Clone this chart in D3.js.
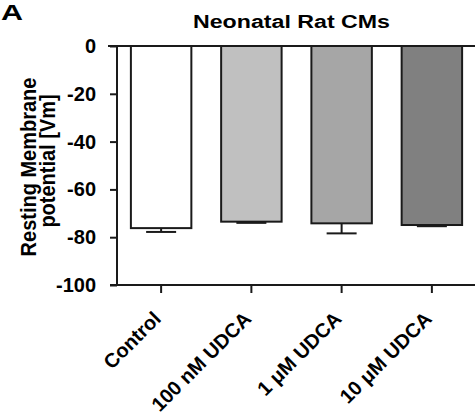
<!DOCTYPE html>
<html><head><meta charset="utf-8">
<script src="https://cdn.jsdelivr.net/npm/d3@7"></script>
<style>
body{margin:0;background:#fff;}
svg text{font-family:"Liberation Sans",Arial,sans-serif;font-weight:bold;fill:#000;}
</style></head>
<body>
<svg id="chart" width="475" height="418"></svg>
<script>
const categories = ["Control", "100 nM UDCA", "1 \u03BCM UDCA", "10 \u03BCM UDCA"];
const means = [-76.2, -73.5, -74.2, -74.9];
const sems = [1.6, 0.5, 4.2, 0.5];
const colors = ["#ffffff", "#c0c0c0", "#a6a6a6", "#808080"];
const yTicks = [0, -20, -40, -60, -80, -100];
const title = "Neonatal Rat CMs";
const yLabelLines = ["Resting Membrane", "potential [Vm]"];

const svg = d3.select("#chart");
const plotTop = 46, plotBottom = 285, plotLeft = 117, plotRight = 477;
const ink = "#1a1a1a";

const y = d3.scaleLinear().domain([0, -100]).range([plotTop, plotBottom]);
const x = d3.scaleBand().domain(categories).range([plotLeft - 1, plotRight]).paddingInner(0.33).paddingOuter(0.165);

// panel letter
svg.append("text").attr("x", 1).attr("y", 20).attr("font-size", 22)
  .attr("textLength", 22).attr("lengthAdjust", "spacingAndGlyphs").text("A");

// title
svg.append("text").attr("x", 193).attr("y", 28)
  .attr("font-size", 18).attr("textLength", 197).attr("lengthAdjust", "spacingAndGlyphs").text(title);

// y label
const yl = svg.append("text").attr("transform", "translate(0,165) scale(1.08,1) rotate(-90)")
  .attr("text-anchor", "middle").attr("font-size", 20);
yl.append("tspan").attr("x", -2).attr("y", 33.5).text(yLabelLines[0]);
yl.append("tspan").attr("x", 4).attr("y", 50.5).text(yLabelLines[1]);

// bars
const g = svg.append("g");
g.selectAll("rect.bar").data(categories).join("rect")
  .attr("x", d => x(d))
  .attr("y", y(0))
  .attr("width", x.bandwidth())
  .attr("height", (d, i) => y(means[i]) - y(0))
  .attr("fill", (d, i) => colors[i])
  .attr("stroke", ink).attr("stroke-width", 2);

// error bars (downward only)
const cap = 30;
categories.forEach((c, i) => {
  const cx = x(c) + x.bandwidth() / 2;
  g.append("line").attr("x1", cx).attr("x2", cx)
    .attr("y1", y(means[i])).attr("y2", y(means[i] - sems[i]))
    .attr("stroke", ink).attr("stroke-width", 2);
  g.append("line").attr("x1", cx - cap / 2).attr("x2", cx + cap / 2)
    .attr("y1", y(means[i] - sems[i])).attr("y2", y(means[i] - sems[i]))
    .attr("stroke", ink).attr("stroke-width", 2);
});

// zero line
svg.append("line").attr("x1", 108).attr("x2", 475).attr("y1", y(0)).attr("y2", y(0))
  .attr("stroke", ink).attr("stroke-width", 2);

// y axis
const yAxis = svg.append("g").attr("transform", `translate(${plotLeft},0)`)
  .call(d3.axisLeft(y).tickValues(yTicks).tickSize(7).tickPadding(14).tickFormat(d3.format("d")));
yAxis.select(".domain").attr("stroke", ink).attr("stroke-width", 2).attr("d", `M0,${plotTop}V${plotBottom}`);
yAxis.selectAll(".tick line").attr("stroke", ink).attr("stroke-width", 2);
yAxis.selectAll(".tick text").attr("font-size", 20).attr("font-family", "Liberation Sans, Arial, sans-serif")
  .attr("font-weight", "bold").attr("fill", "#000").text(d => d === 0 ? "0" : d.toString());

// x axis
const xAxis = svg.append("g").attr("transform", `translate(0,${plotBottom})`)
  .call(d3.axisBottom(x).tickSize(8).tickFormat(""));
xAxis.select(".domain").attr("stroke", ink).attr("stroke-width", 2).attr("d", `M110,0H475`);
xAxis.selectAll(".tick line").attr("stroke", ink).attr("stroke-width", 2);

// x labels rotated
svg.selectAll("text.xl").data(categories).join("text").attr("class", "xl")
  .attr("text-anchor", "end").attr("font-size", 20)
  .attr("transform", d => `translate(${x(d) + x.bandwidth() / 2 + 1},320) rotate(-45)`)
  .text(d => d);
</script>
</body></html>
